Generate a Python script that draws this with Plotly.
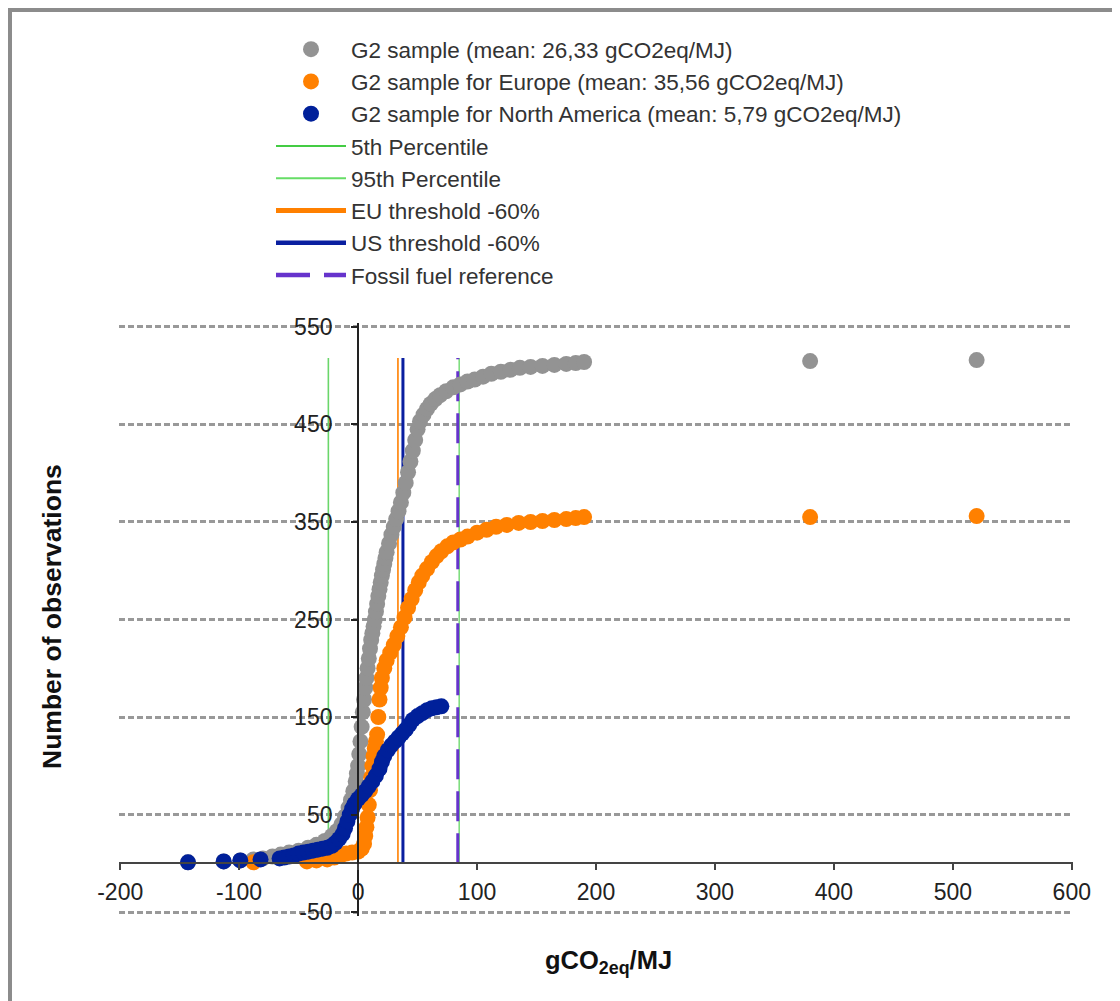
import plotly.graph_objects as go

# ---------------- data ----------------
# G2 sample (all), cumulative number of observations vs gCO2eq/MJ
all_x = [-143, -113, -99, -88, -80, -72, -65, -58, -50, -42, -35, -28, -22, -18, -14, -11, -8, -6, -4, -2, -1,
         0, 1, 2, 3, 4, 5, 6, 7, 8, 9, 10, 11, 12, 13, 14, 15, 16, 17, 18, 19, 20, 21, 22, 23, 24,
         26, 28, 30, 32, 34, 36, 38, 40, 42, 44, 46, 48, 50, 52, 55, 58, 61, 65, 69, 74, 80, 86, 92,
         98, 105, 112, 120, 128, 136, 145, 155, 165, 175, 183, 190, 380, 520]
all_y = [1, 2, 3, 4, 5, 7, 9, 11, 13, 16, 19, 23, 28, 33, 40, 48, 57, 65, 74, 84, 92,
         100, 112, 125, 140, 155, 168, 180, 190, 200, 210, 220, 229, 236, 243, 250, 258, 266, 274, 281, 288, 295, 301, 307, 313, 319,
         328, 337, 345, 353, 361, 370, 380, 390, 401, 412, 423, 434, 445, 453, 460, 466, 471, 476, 480, 484, 488, 491, 494,
         496, 499, 502, 504, 506, 508, 509, 510, 511, 512, 513, 514, 515, 516]

# G2 sample for Europe
eu_x = [-88, -43, -35, -26, -20, -15, -10, -5, 0, 3, 5, 6, 7, 8, 9, 10, 11, 12, 13, 14, 15,
        16, 17, 18, 19, 20, 22, 24, 27, 30, 33, 36, 39, 42, 45, 48, 51, 54, 58, 62, 66, 70, 75,
        80, 86, 92, 100, 108, 116, 125, 135, 145, 155, 165, 175, 183, 190, 380, 520]
eu_y = [1, 2, 3, 4, 6, 8, 10, 11, 12, 15, 20, 28, 37, 47, 60, 75, 88, 100, 110, 118, 125,
        132, 150, 168, 180, 190, 200, 208, 216, 224, 233, 242, 252, 262, 271, 280, 288, 295, 302, 309, 315, 320, 325,
        329, 332, 335, 339, 342, 345, 347, 349, 350, 351, 352, 353, 354, 355, 355, 356]

# G2 sample for North America
na_x = [-143, -113, -99, -82, -66, -62, -58, -54, -50, -46, -42, -38, -34, -30, -26, -22, -19, -16, -13, -11,
        -9, -7, -5, -3, 0, 3, 6, 9, 12, 15, 18, 20, 22, 25, 28, 31, 34, 37, 40, 43, 46, 50, 54, 58, 62, 66, 70]
na_y = [1, 2, 3, 4, 5, 6, 7, 8, 10, 11, 12, 13, 14, 15, 16, 18, 21, 25, 30, 36,
        43, 50, 56, 61, 66, 70, 74, 79, 84, 90, 97, 104, 110, 116, 121, 125, 129, 133, 137, 142, 147, 151, 154, 157, 159, 160, 161]

# reference lines (gCO2eq/MJ) and their vertical extent (observations)
ref_names = ["5th Percentile", "95th Percentile", "EU threshold -60%", "US threshold -60%", "Fossil fuel reference"]
ref_values = [-25, 85, 33.5, 37.7, 83.8]
ref_span = [0, 518]

series_names = ["G2 sample (mean: 26,33 gCO2eq/MJ)",
                "G2 sample for Europe (mean: 35,56 gCO2eq/MJ)",
                "G2 sample for North America (mean: 5,79 gCO2eq/MJ)"]

x_ticks = [-200, -100, 0, 100, 200, 300, 400, 500, 600]
x_tick_labels = ["-200", "-100", "0", "100", "200", "300", "400", "500", "600"]
y_ticks = [-50, 50, 150, 250, 350, 450, 550]
y_tick_labels = ["-50", "50", "150", "250", "350", "450", "550"]

# ---------------- styling ----------------
FONT = "Liberation Sans, Arial, sans-serif"
OFF = 8                      # page offset of the figure inside the html body
W, H = 1120, 1001
ML, MR, MT, MB = 111, 55, 315, 93
XR = [-201, 601]
YR = [-54, 554]
plot_w = W - ML - MR
plot_h = H - MT - MB


def px(p):   # page x pixel -> paper x
    return (p - OFF - ML) / plot_w


def py(p):   # page y pixel -> paper y
    return (H - MB - (p - OFF)) / plot_h


ref_styles = [
    dict(color="#6ad66a", width=1.6),
    dict(color="#80de80", width=1.6),
    dict(color="#ff8000", width=1.6),
    dict(color="#0a1fa0", width=3),
    dict(color="#6633cc", width=3, dash="30px,12px"),
]
ref_legend_styles = [
    dict(color="#44cc44", width=2),
    dict(color="#66dd66", width=2),
    dict(color="#ff8000", width=5),
    dict(color="#0a1fa0", width=4.5),
    dict(color="#6633cc", width=4.5, dash="34px,14px"),
]

fig = go.Figure()

# reference lines first (drawn beneath the dots)
for i, (name, v, st, lst) in enumerate(zip(ref_names, ref_values, ref_styles, ref_legend_styles)):
    fig.add_trace(go.Scatter(
        x=[v, v], y=ref_span, mode="lines", name=name, line=st,
        showlegend=False, legendgroup=name, hoverinfo="skip"))
    # legend entry with the heavier legend line style
    fig.add_trace(go.Scatter(
        x=[None], y=[None], mode="lines", name=name, line=lst,
        legendgroup=name, legendrank=4 + i))

marker_colors = ["#939393", "#ff8000", "#00209a"]
for i, (name, xs, ys, c) in enumerate(zip(series_names, [all_x, eu_x, na_x], [all_y, eu_y, na_y], marker_colors)):
    fig.add_trace(go.Scatter(
        x=xs, y=ys, mode="markers", name=name,
        marker=dict(color=c, size=16, line=dict(width=0)),
        legendrank=1 + i))

x_pos = (0 - YR[0]) / (YR[1] - YR[0])   # x-axis crosses at y = 0
y_pos = (0 - XR[0]) / (XR[1] - XR[0])   # y-axis crosses at x = 0

fig.update_layout(
    width=W, height=H,
    margin=dict(l=ML, r=MR, t=MT, b=MB, autoexpand=False),
    paper_bgcolor="white", plot_bgcolor="white",
    font=dict(family=FONT, color="#222222"),
    showlegend=True,
    legend=dict(
        x=px(271), xanchor="left",
        y=py(28), yanchor="top",
        font=dict(size=22.5, family=FONT, color="#333333"),
        itemwidth=70, bgcolor="rgba(0,0,0,0)", traceorder="normal",
        itemclick=False, itemdoubleclick=False,
    ),
    xaxis=dict(
        range=XR, domain=[0, 1], anchor="free", position=x_pos,
        tickmode="array", tickvals=x_ticks, ticktext=x_tick_labels,
        showgrid=False, zeroline=False,
        showline=True, linecolor="#444444", linewidth=2,
        ticks="outside", ticklen=6, tickwidth=2, tickcolor="#444444",
        tickfont=dict(size=23, family=FONT, color="#222222"),
        ticklabelstandoff=2,
    ),
    yaxis=dict(
        range=YR, domain=[0, 1], anchor="free", position=y_pos,
        tickmode="array", tickvals=y_ticks, ticktext=y_tick_labels,
        showgrid=True, gridcolor="#999999", gridwidth=3, griddash="6px,3px",
        zeroline=False,
        showline=True, linecolor="#222222", linewidth=2,
        ticks="outside", ticklen=6, tickwidth=2, tickcolor="#222222",
        tickfont=dict(size=23, family=FONT, color="#222222"),
        ticklabelstandoff=14,
    ),
    shapes=[dict(
        type="rect", xref="paper", yref="paper", layer="above",
        x0=px(10), x1=px(W + 60),
        y0=py(H + 60), y1=py(10),
        line=dict(color="#8c8c8c", width=4), fillcolor="rgba(0,0,0,0)")],
    annotations=[
        dict(text="<b>Number of observations</b>", textangle=-90,
             xref="paper", yref="paper", x=px(52), y=py(617),
             xanchor="center", yanchor="middle", showarrow=False,
             font=dict(size=26.5, family=FONT, color="#111111")),
        dict(text="<b>gCO<sub>2eq</sub>/MJ</b>",
             xref="paper", yref="paper", x=px(608), y=py(962),
             xanchor="center", yanchor="middle", showarrow=False,
             font=dict(size=25.5, family=FONT, color="#111111")),
    ],
)

fig.write_html("out.html")
